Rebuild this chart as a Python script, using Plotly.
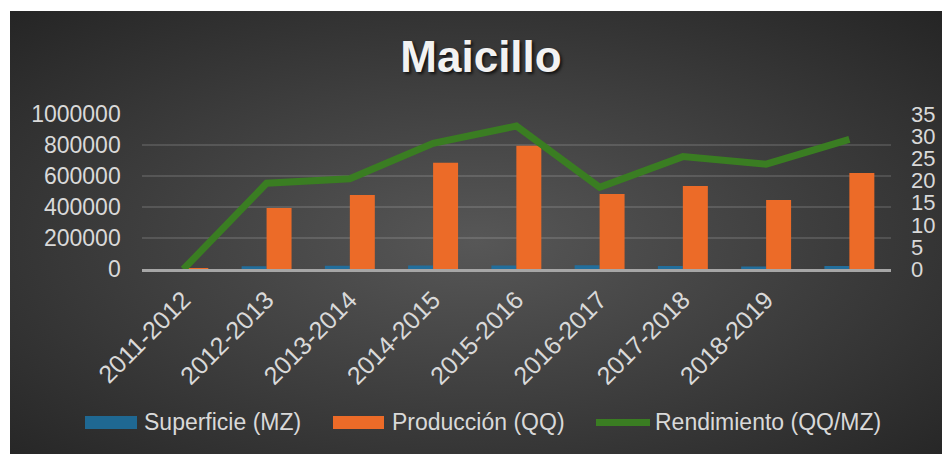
import base64
import plotly.graph_objects as go

# ---- data ----
categories = ["2011-2012", "2012-2013", "2013-2014", "2014-2015", "2015-2016",
              "2016-2017", "2017-2018", "2018-2019", "2019-2020"]
tick_labels = ["2011-2012", "2012-2013", "2013-2014", "2014-2015", "2015-2016",
               "2016-2017", "2017-2018", "2018-2019"]
superficie = [1500, 20400, 23400, 24200, 24600, 26500, 21100, 18800, 21200]
produccion = [3000, 395000, 478000, 686000, 796000, 485000, 536000, 446000, 620000]
rendimiento = [0, 19.4, 20.4, 28.4, 32.3, 18.5, 25.4, 23.7, 29.3]

W, H = 942, 454
FONT = "Liberation Sans, Arial, sans-serif"
TXT = "#d9d9d9"

def px(x):
    return x / W

def py(y):
    return 1 - y / H

fig = go.Figure()
fig.add_trace(go.Bar(x=categories, y=superficie, name="Superficie (MZ)",
                     marker=dict(color="#226e9c", line=dict(width=0)), showlegend=False))
fig.add_trace(go.Bar(x=categories, y=produccion, name="Producción (QQ)",
                     marker=dict(color="#ec6b28", line=dict(width=0)), showlegend=False))
fig.add_trace(go.Scatter(x=categories, y=rendimiento, name="Rendimiento (QQ/MZ)", yaxis="y2",
                         mode="lines", line=dict(color="#3a7d22", width=7), showlegend=False))

# background with radial gradient
svg = (f"<svg xmlns='http://www.w3.org/2000/svg' width='932' height='443' viewBox='0 0 932 443' preserveAspectRatio='none'>"
       "<defs><radialGradient id='g' cx='0.5' cy='0.52' r='0.72'>"
       "<stop offset='0' stop-color='#575757'/><stop offset='1' stop-color='#252525'/>"
       "</radialGradient></defs><rect width='932' height='443' fill='url(#g)'/></svg>")
src = "data:image/svg+xml;base64," + base64.b64encode(svg.encode()).decode()

x0, x1 = 141.7, 891.0
ytop, ybot = 114.0, 269.3

fig.update_layout(
    width=W, height=H,
    margin=dict(l=0, r=0, t=0, b=0, pad=0),
    paper_bgcolor="white",
    plot_bgcolor="rgba(0,0,0,0)",
    barmode="group", bargap=0.4, bargroupgap=0,
    font=dict(family=FONT, color=TXT, size=23),
    showlegend=False,
    title=dict(text="<b>Maicillo</b>", x=px(481), y=py(57), xanchor="center", yanchor="middle",
               xref="paper", yref="paper",
               font=dict(family=FONT, size=44, color="#f2f2f2",
                         shadow="2px 2px 3px rgba(0,0,0,0.7)")),
    images=[dict(source=src, xref="paper", yref="paper", x=px(10), y=py(11),
                 sizex=(W - 10) / W, sizey=(H - 11) / H, sizing="stretch",
                 xanchor="left", yanchor="top", layer="below")],
    xaxis=dict(domain=[px(x0), px(x1)], type="category", categoryorder="array",
               categoryarray=categories, tickmode="array", tickvals=tick_labels,
               ticktext=tick_labels, tickangle=-45, showgrid=False, ticks="",
               showline=True, linecolor="#a6a6a6", linewidth=3, automargin=False,
               tickfont=dict(size=25, color=TXT), ticklabelstandoff=3),
    yaxis=dict(domain=[py(ybot), py(ytop)], range=[0, 1000000], dtick=200000,
               tickformat="d", showgrid=True, gridcolor="rgba(255,255,255,0.13)",
               gridwidth=2, zeroline=False, ticks="", automargin=False,
               tickfont=dict(size=23, color=TXT), ticklabelstandoff=20),
    yaxis2=dict(overlaying="y", side="right", range=[0, 35], dtick=5,
                showgrid=False, zeroline=False, ticks="", automargin=False,
                tickfont=dict(size=22, color=TXT), ticklabelstandoff=19),
)

# custom legend
shapes = [
    dict(type="rect", xref="paper", yref="paper", x0=px(85), x1=px(137), y0=py(429), y1=py(416),
         fillcolor="#1f6892", line=dict(width=0)),
    dict(type="rect", xref="paper", yref="paper", x0=px(333), x1=px(384), y0=py(429), y1=py(416),
         fillcolor="#ec6b28", line=dict(width=0)),
    dict(type="line", xref="paper", yref="paper", x0=px(596), x1=px(650), y0=py(422.5), y1=py(422.5),
         line=dict(color="#3a7d22", width=7)),
]
fig.update_layout(shapes=shapes)
for label, xpos in [("Superficie (MZ)", 142), ("Producción (QQ)", 390), ("Rendimiento (QQ/MZ)", 653)]:
    fig.add_annotation(text=label, xref="paper", yref="paper", x=px(xpos), y=py(422),
                       xanchor="left", yanchor="middle", showarrow=False,
                       font=dict(family=FONT, size=23, color=TXT))

fig.write_html("out.html", config={"displayModeBar": False},
               post_script="document.body.style.margin='0';document.body.style.overflow='hidden';")
